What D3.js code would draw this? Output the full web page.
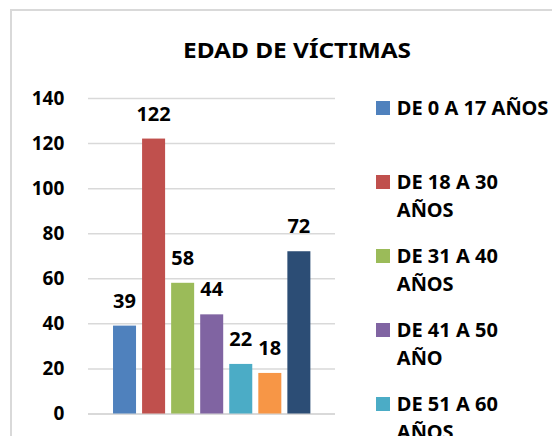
<!DOCTYPE html>
<html>
<head>
<meta charset="utf-8">
<script src="https://cdn.jsdelivr.net/npm/d3@7"></script>
<style>
  html, body { margin: 0; padding: 0; background: #fff; }
  svg { display: block; }
  text { font-family: "Noto Sans", "Open Sans", sans-serif; font-weight: bold; fill: #000; }
</style>
</head>
<body>
<svg id="chart" width="552" height="436"></svg>
<script>
const chartTitle = "EDAD DE VÍCTIMAS";
const seriesNames = [
  "DE 0 A 17 AÑOS",
  "DE 18 A 30\nAÑOS",
  "DE 31 A 40\nAÑOS",
  "DE 41 A 50\nAÑO",
  "DE 51 A 60\nAÑOS",
  "DE 61 A 70\nAÑOS",
  "MÁS DE 70\nAÑOS"
];
const values = [39, 122, 58, 44, 22, 18, 72];
const colors = ["#4F81BD", "#C0504D", "#9BBB59", "#8064A2", "#4BACC6", "#F79646", "#2C4D75"];
const yTicks = [0, 20, 40, 60, 80, 100, 120, 140];

const svg = d3.select("#chart");

// chart frame
svg.append("rect")
  .attr("x", 11).attr("y", 10)
  .attr("width", 580).attr("height", 520)
  .attr("fill", "#fff")
  .attr("stroke", "#d9d9d9").attr("stroke-width", 2);

// title
svg.append("text")
  .attr("x", 297).attr("y", 58.3)
  .attr("text-anchor", "middle")
  .attr("font-size", 22)
  .attr("textLength", 228).attr("lengthAdjust", "spacingAndGlyphs")
  .text(chartTitle);

const plotLeft = 88, plotRight = 335;
const y = d3.scaleLinear().domain([0, 140]).range([413.5, 98]);
const x = d3.scaleBand().domain(seriesNames)
  .range([110, 313.4]).paddingInner(0.208).paddingOuter(0.104);

// axis with gridlines
const axis = svg.append("g")
  .attr("transform", `translate(${plotLeft},0)`)
  .call(d3.axisLeft(y).tickValues(yTicks)
    .tickSize(-(plotRight - plotLeft)).tickPadding(23.7));
axis.select(".domain").remove();
axis.selectAll(".tick line")
  .attr("stroke", "#d9d9d9")
  .attr("stroke-width", d => d === 0 ? 2 : 1.5);
axis.selectAll(".tick text")
  .attr("font-size", 19)
  .attr("font-family", "Noto Sans, Open Sans, sans-serif")
  .attr("font-weight", "bold")
  .attr("fill", "#000")
  .attr("dy", null)
  .attr("y", 6.3);

// bars
svg.append("g").selectAll("rect")
  .data(values)
  .join("rect")
  .attr("x", (d, i) => x(seriesNames[i]))
  .attr("width", x.bandwidth())
  .attr("y", d => y(d))
  .attr("height", d => y(0) - y(d))
  .attr("fill", (d, i) => colors[i]);

// data labels
svg.append("g").selectAll("text")
  .data(values)
  .join("text")
  .attr("x", (d, i) => x(seriesNames[i]) + x.bandwidth() / 2)
  .attr("y", d => y(d) - 18)
  .attr("text-anchor", "middle")
  .attr("font-size", 20)
  .text(d => d);

// legend
const legend = svg.append("g");
const item = legend.selectAll("g")
  .data(seriesNames)
  .join("g")
  .attr("transform", (d, i) => `translate(376,${101 + i * 74})`);
item.append("rect")
  .attr("width", 14).attr("height", 14)
  .attr("fill", (d, i) => colors[i]);
item.append("text")
  .attr("font-size", 20)
  .selectAll("tspan")
  .data(d => d.split("\n"))
  .join("tspan")
  .attr("x", 20.8)
  .attr("y", (d, j) => 14 + j * 28)
  .text(d => d);
</script>
</body>
</html>
